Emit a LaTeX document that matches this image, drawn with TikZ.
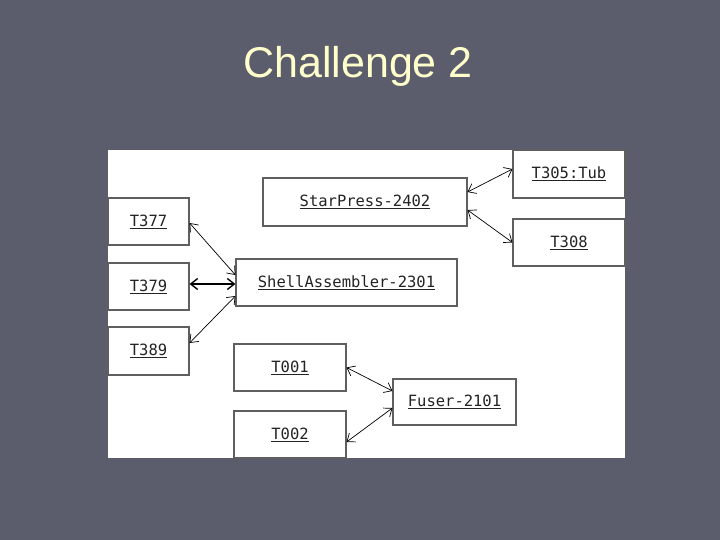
\documentclass[tikz,border=0pt]{standalone}
\usepackage{fontspec}
\usepackage{tikz}
\usetikzlibrary{arrows.meta,positioning,calc}
\usepackage{xcolor}
\setmainfont{Liberation Sans}
\newfontfamily\boxfont{DejaVu Sans Mono}
\definecolor{slidebg}{RGB}{91,93,109}
\definecolor{titlecream}{RGB}{255,255,204}
\definecolor{boxline}{RGB}{95,95,95}
\definecolor{boxtext}{RGB}{35,35,35}
\tikzset{
    obj/.style={rectangle, draw=boxline, fill=white, line width=1.1pt, inner sep=0pt, font=\boxfont\fontsize{15.5}{18}\selectfont, text=boxtext},
    link/.style={line width=0.7pt, black, {Straight Barb[length=7pt,width=11pt]}-{Straight Barb[length=7pt,width=11pt]}},
    slidetitle/.style={font=\fontsize{43}{50}\selectfont, text=titlecream},
}

\begin{document}
\begin{tikzpicture}[x=1pt,y=-1pt]
    % slide and panel
    \fill[slidebg] (0,0) rectangle (720,540);
    \useasboundingbox (0,0) rectangle (720,540);
    \node[slidetitle] (title) at (358,66) {Challenge 2};
    \fill[white] (108,150) rectangle (625,458);

    % press
    \node[obj, minimum width=204pt, minimum height=48pt] (sp) at (365,202) {\underline{StarPress-2402}};
    \node[obj, minimum width=112pt, minimum height=48pt] (t305) at (569,174) {\underline{T305:Tub}};
    \node[obj, minimum width=112pt, minimum height=47pt] (t308) at (569,242.5) {\underline{T308}};
    \draw[link] ([yshift=10pt]sp.east) -- ([yshift=5pt]t305.west);
    \draw[link] ([yshift=-8pt]sp.east) -- (t308.west);

    % assembler
    \node[obj, minimum width=221pt, minimum height=47pt] (sa) at (346.5,282.5) {\underline{ShellAssembler-2301}};
    \node[obj, minimum width=81pt, minimum height=47pt] (t377) at (148.5,221.5) {\underline{T377}};
    \node[obj, minimum width=81pt, minimum height=47pt] (t379) at (148.5,286.5) {\underline{T379}};
    \node[obj, minimum width=81pt, minimum height=48pt] (t389) at (148.5,351) {\underline{T389}};
    \draw[link] ([yshift=-1.5pt]t377.east) -- ([yshift=7.5pt]sa.west);
    \draw[link, line width=1.4pt] ([yshift=2.5pt]t379.east) -- ([yshift=-1.5pt]sa.west);
    \draw[link] ([yshift=8pt]t389.east) -- ([yshift=-13.5pt]sa.west);

    % fuser
    \node[obj, minimum width=123pt, minimum height=46pt] (fu) at (454.5,402) {\underline{Fuser-2101}};
    \node[obj, minimum width=112pt, minimum height=47pt] (t001) at (290,367.5) {\underline{T001}};
    \node[obj, minimum width=112pt, minimum height=47pt] (t002) at (290,434.5) {\underline{T002}};
    \draw[link] (t001.east) -- ([yshift=11pt]fu.west);
    \draw[link] ([yshift=-7.5pt]t002.east) -- ([yshift=-6pt]fu.west);
\end{tikzpicture}
\end{document}
